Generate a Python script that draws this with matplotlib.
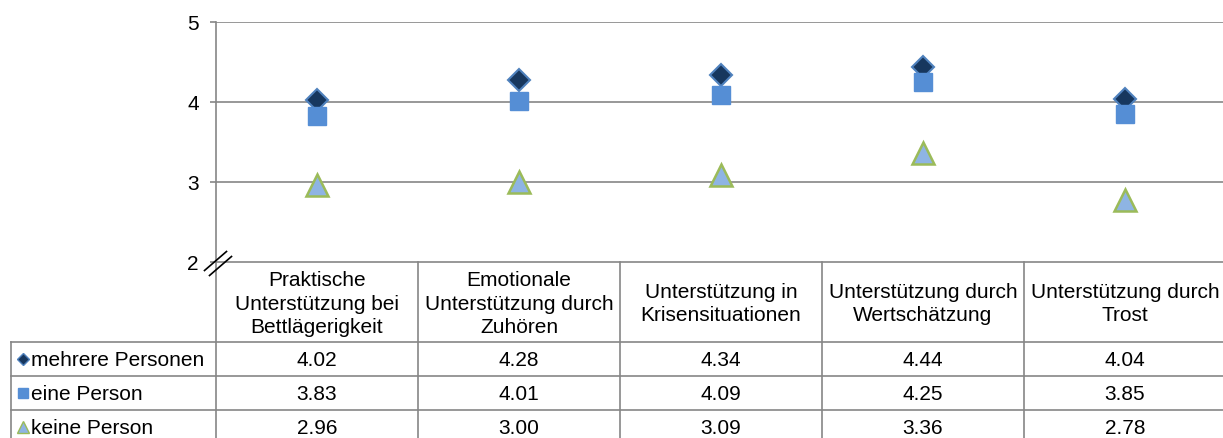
import matplotlib
matplotlib.use("Agg")
import matplotlib.pyplot as plt
from matplotlib.lines import Line2D

plt.rcParams['font.family'] = ['Liberation Sans', 'DejaVu Sans']

categories = ["Praktische\nUnterstützung bei\nBettlägerigkeit",
              "Emotionale\nUnterstützung durch\nZuhören",
              "Unterstützung in\nKrisensituationen",
              "Unterstützung durch\nWertschätzung",
              "Unterstützung durch\nTrost"]
series_names = ["mehrere Personen", "eine Person", "keine Person"]
mehrere = [4.02, 4.28, 4.34, 4.44, 4.04]
eine = [3.83, 4.01, 4.09, 4.25, 3.85]
keine = [2.96, 3.00, 3.09, 3.36, 2.78]
y_ticks = [2, 3, 4, 5]

W, H = 1223, 439
fig = plt.figure(figsize=(W / 100, H / 100), dpi=100)

def px_rect(x0, y0, x1, y1):
    return [x0 / W, 1 - y1 / H, (x1 - x0) / W, (y1 - y0) / H]

grey = "#868686"
FS = 15

# main plot axes
ax = fig.add_axes(px_rect(216, 23, 1226, 263))
ax.set_xlim(-0.5, 4.5)
ax.set_ylim(2, 5)
for s in ["top", "right", "bottom"]:
    ax.spines[s].set_visible(False)
ax.spines["left"].set_color(grey)
ax.spines["left"].set_linewidth(1.2)
ax.set_xticks([])
ax.set_yticks(y_ticks)
ax.set_yticklabels([str(t) for t in y_ticks], fontsize=FS)
ax.tick_params(axis="y", length=4.5, color=grey, width=1.2, pad=8)
for t in y_ticks[1:]:
    ax.axhline(t, color=grey, lw=1.2, zorder=1)

xs = list(range(len(categories)))
styles = [
    dict(marker="D", ms=11.5, mfc="#17375E", mec="#4F81BD", mew=1.5),
    dict(marker="s", ms=13, mfc="#558ED5", mec="#558ED5", mew=1),
    dict(marker="^", ms=16, mfc="#8EB4E3", mec="#9BBB59", mew=1.8),
]
for vals, st in zip([mehrere, eine, keine], styles):
    ax.plot(xs, vals, ls="none", zorder=3, clip_on=False, **st)

# axis break symbol
for off in (-2.5, 2.5):
    fig.add_artist(Line2D([(207 + off) / W, (229 + off) / W],
                          [1 - (274 + off) / H, 1 - (255 + off) / H],
                          color="black", lw=1.2))

# table axes (pixel units vertically)
tab = fig.add_axes(px_rect(216, 263, 1226, 445))
tab.set_xlim(-0.5, 4.5)
tab.set_ylim(182, 0)
tab.axis("off")
left_x = -0.5 - 205 / 202.0
row_tops = [80, 114, 148, 182]
tab.plot([-0.5, 4.5], [0, 0], color=grey, lw=1.2, clip_on=False)
for y in row_tops[:-1]:
    tab.plot([left_x, 4.5], [y, y], color=grey, lw=1.2, clip_on=False)
for i in range(6):
    xv = -0.5 + i
    tab.plot([xv, xv], [0, 182], color=grey, lw=1.2, clip_on=False)
tab.plot([left_x, left_x], [80, 182], color=grey, lw=1.2, clip_on=False)

for i, c in enumerate(categories):
    tab.text(i, 41, c, ha="center", va="center", fontsize=FS, linespacing=1.27)

row_vals = [mehrere, eine, keine]
for r, (name, vals, st) in enumerate(zip(series_names, row_vals, styles)):
    yc = (row_tops[r] + row_tops[r + 1]) / 2
    for i, v in enumerate(vals):
        tab.text(i, yc + 1, f"{v:.2f}", ha="center", va="center", fontsize=FS)
    mk_x = left_x + 12 / 202.0
    small = dict(st)
    small["ms"] = st["ms"] * 0.55
    small["mew"] = 1
    tab.plot([mk_x], [yc], ls="none", clip_on=False, **small)
    tab.text(left_x + 20 / 202.0, yc + 1, name, ha="left", va="center", fontsize=FS)

fig.savefig("out.png", dpi=100)
